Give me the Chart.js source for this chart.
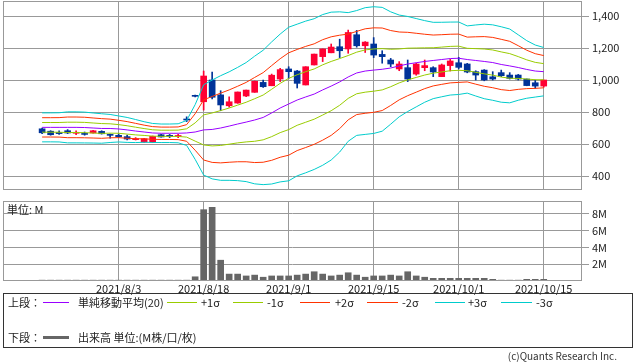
<!DOCTYPE html>
<html>
<head>
<meta charset="utf-8">
<script src="https://cdn.jsdelivr.net/npm/chart.js@4.4.0/dist/chart.umd.min.js"></script>
<style>
  body { margin: 0; background: #fff; width: 638px; height: 362px; position: relative; overflow: hidden;
         font-family: "Noto Sans CJK JP", sans-serif; font-size: 11px; color: #222; }
  canvas { position: absolute; left: 0; }
  #price { top: 0; }
  #vol { top: 195px; }
  .t { position: absolute; line-height: 14px; white-space: nowrap; }
  .ln { position: absolute; height: 1px; }
  #box { position: absolute; left: 3px; top: 293px; width: 628px; height: 53px; border: 1px solid #333; }
</style>
</head>
<body>
<canvas id="price" width="638" height="195"></canvas>
<canvas id="vol" width="638" height="105"></canvas>
<div class="t" style="left:7px;top:202px">単位: M</div>

<div id="box"></div>
<div class="t" style="left:8px;top:295px">上段：</div>
<div class="ln" style="left:43px;top:302px;width:26px;background:#9900ff"></div>
<div class="t" style="left:78px;top:295px">単純移動平均(20)</div>
<div class="ln" style="left:167px;top:302px;width:30px;background:#99cc00"></div>
<div class="t" style="left:201px;top:295px">+1σ</div>
<div class="ln" style="left:233px;top:302px;width:30px;background:#99cc00"></div>
<div class="t" style="left:267px;top:295px">-1σ</div>
<div class="ln" style="left:300px;top:302px;width:30px;background:#ff3300"></div>
<div class="t" style="left:335px;top:295px">+2σ</div>
<div class="ln" style="left:367px;top:302px;width:31px;background:#ff3300"></div>
<div class="t" style="left:402px;top:295px">-2σ</div>
<div class="ln" style="left:435px;top:302px;width:30px;background:#00cccc"></div>
<div class="t" style="left:468px;top:295px">+3σ</div>
<div class="ln" style="left:501px;top:302px;width:31px;background:#00cccc"></div>
<div class="t" style="left:536px;top:295px">-3σ</div>
<div class="t" style="left:8px;top:330px">下段：</div>
<div class="ln" style="left:43px;top:336px;width:26px;height:3px;background:#666"></div>
<div class="t" style="left:78px;top:330px">出来高 単位:(M株/口/枚)</div>
<div class="t" style="right:21px;top:349px;font-size:10px;color:#333">(c)Quants Research Inc.</div>

<script>
// trading days shown on the chart
var dates = ["2021/7/19","2021/7/20","2021/7/21","2021/7/26","2021/7/27","2021/7/28","2021/7/29","2021/7/30",
  "2021/8/2","2021/8/3","2021/8/4","2021/8/5","2021/8/6","2021/8/10","2021/8/11","2021/8/12","2021/8/13",
  "2021/8/16","2021/8/17","2021/8/18","2021/8/19","2021/8/20","2021/8/23","2021/8/24","2021/8/25","2021/8/26",
  "2021/8/27","2021/8/30","2021/8/31","2021/9/1","2021/9/2","2021/9/3","2021/9/6","2021/9/7","2021/9/8",
  "2021/9/9","2021/9/10","2021/9/13","2021/9/14","2021/9/15","2021/9/16","2021/9/17","2021/9/21","2021/9/22",
  "2021/9/24","2021/9/27","2021/9/28","2021/9/29","2021/9/30","2021/10/1","2021/10/4","2021/10/5","2021/10/6",
  "2021/10/7","2021/10/8","2021/10/11","2021/10/12","2021/10/13","2021/10/14","2021/10/15"];
var tickDates = ["2021/8/3","2021/8/18","2021/9/1","2021/9/15","2021/10/1","2021/10/15"];
var priceTicks = [400, 600, 800, 1000, 1200, 1400];
var volumeTicks = [2, 4, 6, 8];

var open  = [695,680,672,683,667,665,669,679,658,654,646,627,612,612,658,652,647,755,900,864,
             1000,907,839,856,900,923,985,964,1006,1069,1056,969,1094,1146,1170,1208,1194,1283,1214,1225,
             1160,1125,1069,1077,1037,1077,1077,1021,1090,1108,1100,1052,1062,1020,1046,1031,1031,1006,983,962];
var high  = [700,683,683,690,683,675,685,683,662,662,655,640,635,650,660,660,660,770,905,1056,
             1050,933,895,925,937,994,1000,1037,1073,1083,1060,1083,1162,1194,1225,1255,1312,1310,1240,1265,
             1183,1135,1115,1125,1105,1125,1083,1100,1129,1142,1104,1058,1065,1052,1062,1046,1035,1006,1000,1000];
var low   = [665,655,660,665,658,655,667,662,637,642,626,625,610,610,642,640,640,740,895,812,
             882,808,830,854,896,923,953,964,990,1010,950,969,1094,1115,1170,1140,1167,1205,1172,1140,
             1105,1083,1058,990,1030,1058,1021,1021,1056,1069,1045,1000,995,1000,1021,1006,1000,964,948,955];
var close = [670,658,665,669,670,660,683,664,654,646,631,633,633,648,644,648,652,750,898,1025,
             892,844,864,925,937,992,958,1030,1065,1052,979,1083,1162,1194,1206,1183,1297,1214,1237,1156,
             1146,1100,1100,1006,1100,1090,1050,1094,1119,1079,1050,1031,1000,1006,1027,1010,1006,965,962,1000];

// 20-day moving average and standard deviation (Bollinger)
var sma = [704,704,704,704,704,703,700,697,697,694,688,681,675,669,667,667,667,669,675,688,
           691,700,712,725,737,750,766,794,825,850,875,894,912,938,962,988,1019,1044,1056,1062,
           1067,1075,1088,1100,1108,1116,1122,1128,1134,1136,1128,1122,1116,1109,1097,1088,1078,1066,1056,1052];
var sd  = [30.2,30.2,30.4,32.3,32.3,32.1,31.3,30.7,29.2,27.1,26,24,21.4,19.8,19.3,19.3,19.8,26,57,94,
           103,109,113,118,124,133,140,148,154,160,158,158,157,157,154,146,134,130,132,132,
           129,117,106,99,92,85,79.5,77.6,76,75.5,70,74,77.6,78.6,78.6,76.9,68.2,60,54.2,50.4];

// volume in millions
var volume = [0.1,0.1,0.1,0.1,0.1,0.1,0.1,0.1,0.1,0.1,0.1,0.1,0.1,0.1,0.1,0.1,0.1,0.1,0.5,8.47,
              8.75,2.47,0.82,0.82,0.6,0.7,0.45,0.6,0.6,0.6,0.7,0.82,1.1,0.82,0.6,0.7,0.98,0.7,0.45,0.6,
              0.6,0.7,0.6,1.1,0.6,0.45,0.32,0.32,0.32,0.32,0.32,0.32,0.32,0.2,0.1,0.1,0.1,0.2,0.2,0.2];

var UP = "#ff0033", DOWN = "#003399", GRID = "#999999";

Chart.defaults.font.family = "'Noto Sans CJK JP', sans-serif";
Chart.defaults.font.size = 11;
Chart.defaults.color = "#222";

var tickIdx = tickDates.map(function (d) { return dates.indexOf(d); });

function setTicks(list) {
  return function (s) { s.ticks = list.map(function (v) { return { value: v }; }); };
}

// fixed axis width, no extra room for the end labels
function fitY(s) {
  s.width = 56;
  s.paddingTop = 0;
  s.paddingBottom = 0;
}

var frame = {
  id: "frame",
  afterDraw: function (chart) {
    var a = chart.chartArea, c = chart.ctx;
    c.save();
    c.strokeStyle = GRID;
    c.lineWidth = 1;
    c.strokeRect(Math.round(a.left) + 0.5, Math.round(a.top) + 0.5, Math.round(a.width) - 1, Math.round(a.height) - 1);
    c.restore();
  }
};

function xScale(showLabels) {
  return {
    type: "linear", min: -4.6, max: 63.5, offset: false,
    afterBuildTicks: setTicks(tickIdx),
    afterFit: function (s) { s.height = showLabels ? 19 : 0; s.paddingLeft = 0; s.paddingRight = 0; },
    grid: { color: GRID, drawTicks: false, offset: false },
    border: { display: false },
    ticks: { display: showLabels, autoSkip: false, maxRotation: 0, padding: 1,
             callback: function (v) { return dates[v]; } }
  };
}

var candleColor = dates.map(function (d, i) { return close[i] >= open[i] ? UP : DOWN; });

function band(k, color) {
  return {
    type: "line", borderColor: color, borderWidth: 1, pointRadius: 0, tension: 0,
    data: dates.map(function (d, i) { return { x: i, y: sma[i] + k * sd[i] }; })
  };
}

new Chart(document.getElementById("price"), {
  type: "bar",
  data: {
    datasets: [
      band(3, "#00cccc"), band(-3, "#00cccc"),
      band(2, "#ff3300"), band(-2, "#ff3300"),
      band(1, "#99cc00"), band(-1, "#99cc00"),
      band(0, "#9900ff"),
      { // wicks
        data: dates.map(function (d, i) { return { x: i, y: [low[i], high[i]] }; }),
        backgroundColor: candleColor, barThickness: 1, grouped: false
      },
      { // bodies
        data: dates.map(function (d, i) { return { x: i, y: [open[i], close[i]] }; }),
        backgroundColor: candleColor, barThickness: 6, minBarLength: 1, grouped: false
      }
    ]
  },
  options: {
    responsive: false, animation: false, locale: "en-US",
    layout: { padding: { left: 3, top: 1, right: 0, bottom: 5 } },
    plugins: { legend: { display: false }, tooltip: { enabled: false } },
    scales: {
      x: xScale(false),
      y: {
        position: "right", min: 312.5, max: 1493.75,
        afterBuildTicks: setTicks(priceTicks),
        afterFit: fitY,
        grid: { color: GRID, tickLength: 7 },
        border: { display: false },
        ticks: { padding: 3, callback: function (v) { return v.toLocaleString("en-US"); } }
      }
    }
  },
  plugins: [frame]
});

new Chart(document.getElementById("vol"), {
  type: "bar",
  data: {
    datasets: [{
      data: dates.map(function (d, i) { return { x: i, y: volume[i] }; }),
      backgroundColor: "#666666", barThickness: 6
    }]
  },
  options: {
    responsive: false, animation: false,
    layout: { padding: { left: 3, top: 6, right: 0, bottom: 0 } },
    plugins: { legend: { display: false }, tooltip: { enabled: false } },
    scales: {
      x: xScale(true),
      y: {
        position: "right", min: 0, max: 9.5,
        afterBuildTicks: setTicks(volumeTicks),
        afterFit: fitY,
        grid: { color: GRID, tickLength: 7 },
        border: { display: false },
        ticks: { padding: 3, callback: function (v) { return v + "M"; } }
      }
    }
  },
  plugins: [frame]
});
</script>
</body>
</html>
